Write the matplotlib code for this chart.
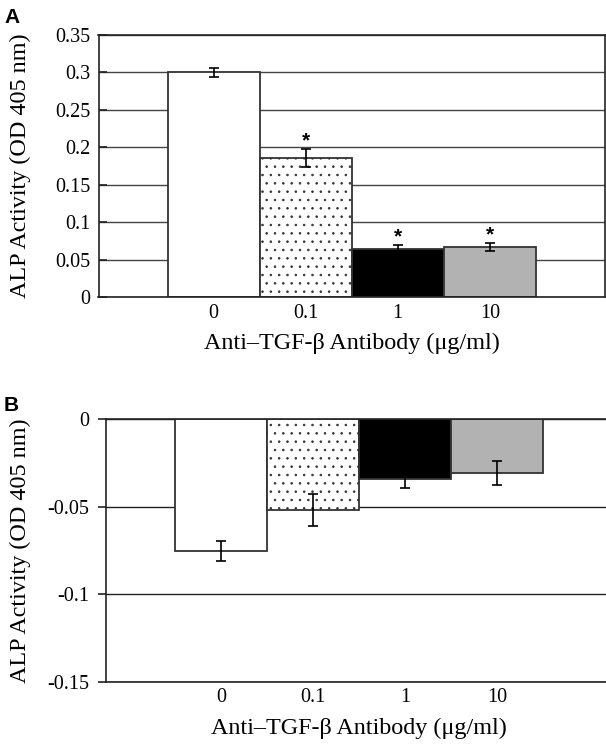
import matplotlib
matplotlib.use("Agg")
import matplotlib.pyplot as plt

# ---- data ----
doses = ["0", "0.1", "1", "10"]
alp_a = [0.300, 0.186, 0.065, 0.067]
err_a = [0.006, 0.0115, 0.005, 0.005]
sig_a = [False, True, True, True]
alp_b = [-0.0752, -0.0518, -0.0341, -0.0309]
err_b = [0.0057, 0.009, 0.005, 0.0069]
yticks_a = [0, 0.05, 0.1, 0.15, 0.2, 0.25, 0.3, 0.35]
ylabels_a = ["0", "0.05", "0.1", "0.15", "0.2", "0.25", "0.3", "0.35"]
yticks_b = [0, -0.05, -0.1, -0.15]
ylabels_b = ["0", "-0.05", "-0.1", "-0.15"]
ylabel = "ALP Activity (OD 405 nm)"
xlabel = "Anti\u2013TGF-\u03b2 Antibody (\u03bcg/ml)"

# ---- style ----
fills = ["white", "white", "black", "#b2b2b2"]
hatches = ["", "..", "", ""]
SERIF = ["Liberation Serif", "DejaVu Serif"]
SANS = ["Liberation Sans", "DejaVu Sans"]
plt.rcParams["font.family"] = SERIF
plt.rcParams["hatch.linewidth"] = 0.6
plt.rcParams["hatch.color"] = "black"

W, H = 606, 745
fig = plt.figure(figsize=(W / 100, H / 100), dpi=100)

x = list(range(len(doses)))
EC = "#333333"


def style_axes(ax):
    for s in ax.spines.values():
        s.set_linewidth(1.2)
        s.set_color("#222222")
    ax.tick_params(axis="x", length=0, labelsize=14.5, pad=4.5)
    ax.set_xticks(x)
    ax.set_xticklabels(doses)
    ax.set_axisbelow(True)
    ax.set_xlim(-1.252, 4.252)


# ---- Panel A ----
axA = fig.add_axes([98.5 / W, 1 - 297.3 / H, 506.5 / W, 262.3 / H])
axA.bar(x, alp_a, width=1.0, color=fills, edgecolor=EC, linewidth=1.3,
        hatch=hatches, zorder=2)
axA.errorbar(x, alp_a, yerr=err_a, fmt="none", ecolor="black",
             elinewidth=1.2, capsize=3.6, capthick=1.2, zorder=3)
for xi, v, e, s in zip(x, alp_a, err_a, sig_a):
    if s:
        axA.annotate("*", (xi, v + e), xytext=(0, 2), textcoords="offset points",
                     ha="center", va="baseline", fontsize=15, fontweight="bold",
                     family=SANS)
axA.set_ylim(0, 0.35)
axA.set_yticks(yticks_a)
axA.set_yticklabels(ylabels_a)
axA.yaxis.grid(True, color="#444444", linewidth=1.0)
axA.tick_params(axis="y", direction="in", length=6, width=1.2, labelsize=14.5, pad=6,
                color="#222222")
style_axes(axA)
axA.set_ylabel(ylabel, fontsize=17.4)
axA.yaxis.set_label_coords((31 - 98.5) / 506.5, 0.5)
axA.set_xlabel(xlabel, fontsize=17.4)
axA.xaxis.set_label_coords(0.5, (297.3 - 333) / 262.3)

# ---- Panel B ----
axB = fig.add_axes([106 / W, 1 - 681.7 / H, 506 / W, 262.4 / H])
axB.bar(x, alp_b, width=1.0, color=fills, edgecolor=EC, linewidth=1.3,
        hatch=hatches, zorder=2)
axB.errorbar(x, alp_b, yerr=err_b, fmt="none", ecolor="black",
             elinewidth=1.2, capsize=3.6, capthick=1.2, zorder=3)
axB.set_ylim(-0.15, 0)
axB.set_yticks(yticks_b)
axB.set_yticklabels(ylabels_b)
axB.yaxis.grid(True, color="#222222", linewidth=1.0)
axB.tick_params(axis="y", direction="out", length=6, width=1.2, labelsize=14.5, pad=6,
                color="#222222")
style_axes(axB)
axB.set_xlim(-1.25, 4.25)
axB.set_ylabel(ylabel, fontsize=17.4)
axB.yaxis.set_label_coords((31 - 106) / 506, 0.5)
axB.set_xlabel(xlabel, fontsize=17.4)
axB.xaxis.set_label_coords(0.5, (681.7 - 717.5) / 262.4)

# ---- panel letters ----
fig.text(4 / W, 1 - 23 / H, "A", ha="left", va="baseline", fontsize=15,
         fontweight="bold", family=SANS)
fig.text(4 / W, 1 - 411.5 / H, "B", ha="left", va="baseline", fontsize=15,
         fontweight="bold", family=SANS)

fig.savefig("out.png", dpi=100)
